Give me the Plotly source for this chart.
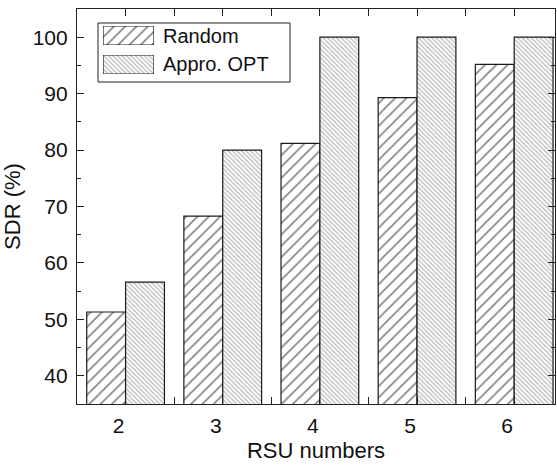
import plotly.graph_objects as go

rsu = [2, 3, 4, 5, 6]
random_sdr = [51.3, 68.3, 81.2, 89.3, 95.2]
opt_sdr = [56.6, 80.0, 100.0, 100.0, 100.0]
series_names = ["Random", "Appro. OPT"]
y_ticks = [40, 50, 60, 70, 80, 90, 100]

W, H = 557, 466
L, R, T, B = 77, 2, 9, 62
PW, PH = W - L - R, H - T - B

def px_x(x):
    return (x - L) / PW

def px_y(y):
    return (H - B - y) / PH

FONT = "Liberation Sans, Arial, sans-serif"
random_pat = dict(shape="/", fgcolor="#000000", bgcolor="white", size=8, solidity=0.19)
opt_pat = dict(shape="\\", fgcolor="#6a6a6a", bgcolor="white", size=3.2, solidity=0.35)
line = dict(color="#1a1a1a", width=1.2)

fig = go.Figure()
fig.add_trace(go.Bar(x=rsu, y=random_sdr, name=series_names[0], showlegend=False,
                     marker=dict(color="white", pattern=random_pat, line=line)))
fig.add_trace(go.Bar(x=rsu, y=opt_sdr, name=series_names[1], showlegend=False,
                     marker=dict(color="white", pattern=opt_pat, line=line)))

# legend swatches in small inset axes
sw = [(26, 45), (55, 74)]
pats = [random_pat, opt_pat]
for i, ((y0, y1), pat) in enumerate(zip(sw, pats)):
    k = i + 2
    fig.add_trace(go.Bar(x=[1], y=[0], base=[0], orientation="h", width=[1], showlegend=False,
                         hoverinfo="skip",
                         marker=dict(color="white", pattern=pat, line=line),
                         xaxis=f"x{k}", yaxis=f"y{k}"))
    fig.update_layout({
        f"xaxis{k}": dict(domain=[px_x(103), px_x(154)], range=[0, 1], visible=False, anchor=f"y{k}"),
        f"yaxis{k}": dict(domain=[px_y(y1), px_y(y0)], range=[-0.5, 0.5], visible=False, anchor=f"x{k}"),
    })
    fig.add_annotation(x=px_x(161), y=px_y((y0 + y1) / 2), xref="paper", yref="paper",
                       text=series_names[i], showarrow=False, xanchor="left", yanchor="middle",
                       font=dict(size=20, color="#111111", family=FONT))

fig.add_shape(type="rect", xref="paper", yref="paper",
              x0=px_x(98), x1=px_x(290), y0=px_y(82), y1=px_y(23),
              line=dict(color="#222222", width=1), fillcolor="rgba(0,0,0,0)", layer="above")

fig.update_layout(
    width=W, height=H,
    margin=dict(l=L, r=R, t=T, b=B, autoexpand=False),
    paper_bgcolor="white", plot_bgcolor="white",
    barmode="group", bargap=0.2, bargroupgap=0,
    font=dict(family=FONT, size=21, color="#111111"),
    xaxis=dict(range=[1.5, 6.42], tickmode="array", tickvals=rsu, ticktext=[str(v) for v in rsu],
               ticks="inside", ticklen=7, tickcolor="#222222", showline=True, linecolor="#222222",
               linewidth=1.2, mirror="allticks", showgrid=False, zeroline=False,
               ticklabelshift=-7, ticklabelstandoff=3, automargin=False,
               minor=dict(tickvals=[2.5, 3.5, 4.5, 5.5], ticks="inside", ticklen=7, tickcolor="#222222"),
               title=dict(text="RSU numbers", font=dict(size=22), standoff=6)),
    yaxis=dict(range=[35, 105], tickvals=y_ticks, ticks="inside", ticklen=7, tickcolor="#222222",
               showline=True, linecolor="#222222", linewidth=1.2, mirror="allticks",
               showgrid=False, zeroline=False, ticklabelstandoff=4, automargin=False,
               minor=dict(dtick=5, tick0=35, ticks="inside", ticklen=4, tickcolor="#222222"),
               title=dict(text="SDR (%)", font=dict(size=22), standoff=8)),
)

fig.write_html("out.html", config={"displayModeBar": False},
               post_script="document.body.style.margin='0';")
